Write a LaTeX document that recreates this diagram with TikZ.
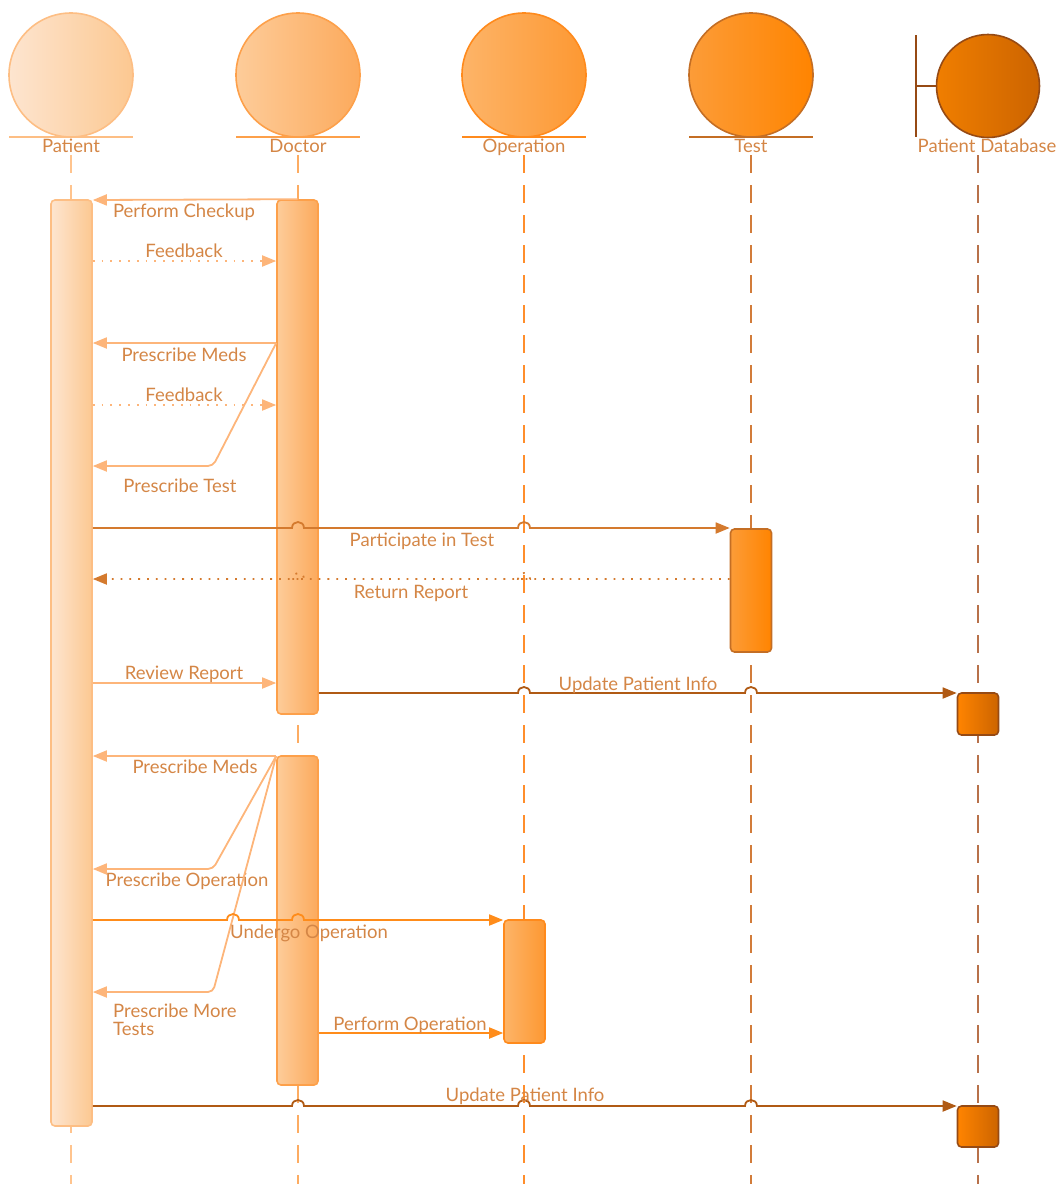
\documentclass[tikz,border=0pt]{standalone}
\usepackage{fontspec}
\setmainfont{Lato}
\usetikzlibrary{arrows.meta}

% palette
\definecolor{txt}{RGB}{212,134,70}
\definecolor{patL}{RGB}{253,229,208}
\definecolor{patR}{RGB}{252,200,145}
\definecolor{patD}{RGB}{253,190,132}
\definecolor{docL}{RGB}{253,204,154}
\definecolor{docR}{RGB}{252,170,92}
\definecolor{docD}{RGB}{253,160,74}
\definecolor{opL}{RGB}{253,180,104}
\definecolor{opR}{RGB}{253,152,50}
\definecolor{opD}{RGB}{255,138,28}
\definecolor{tstL}{RGB}{252,156,56}
\definecolor{tstR}{RGB}{255,132,0}
\definecolor{tstD}{RGB}{196,110,36}
\definecolor{dbL}{RGB}{240,126,0}
\definecolor{dbR}{RGB}{204,100,0}
\definecolor{dbD}{RGB}{150,74,20}
\definecolor{lifePat}{RGB}{255,196,142}
\definecolor{lifeDoc}{RGB}{253,172,98}
\definecolor{lifeOp}{RGB}{255,142,44}
\definecolor{lifeTst}{RGB}{210,124,58}
\definecolor{lifeDb}{RGB}{184,113,74}
\definecolor{msgLight}{RGB}{253,181,122}
\definecolor{msgTst}{RGB}{212,122,46}
\definecolor{msgDb}{RGB}{176,90,20}
\definecolor{msgOp}{RGB}{255,140,26}

% a small hop where a message passes over a lifeline
\newcommand{\hopat}[2]{-- ({#1-6},#2) .. controls ({#1-6},{#2-8}) and ({#1+6},{#2-8}) .. ({#1+6},#2)}

\begin{document}
\begin{tikzpicture}[x=1pt,y=-1pt,
  actor/.style={circle, minimum size=124pt, inner sep=0pt, line width=1.6pt},
  actbox/.style={rectangle, rounded corners=4pt, inner sep=0pt, minimum width=41pt, line width=1.6pt},
  lbl/.style={text=txt, font=\fontsize{18.5}{18}\selectfont, inner sep=0pt},
  tx/.style={lbl, text height=16pt, text depth=3pt},
  life/.style={line width=1.8pt, dash pattern=on 18pt off 12pt},
  msg/.style={line width=1.8pt, -{Triangle[length=14pt,width=11pt]}},
  reply/.style={msg, dash pattern=on 1.8pt off 7pt},
]
\useasboundingbox (0,0) rectangle (1060,1184);

% ---- lifelines
\draw[life, lifePat] (71,155) -- (71,1184);
\draw[life, lifeDoc] (298,155) -- (298,1184);
\draw[life, lifeOp]  (524,155) -- (524,1184);
\draw[life, lifeTst] (751,155) -- (751,1184);
\draw[life, lifeDb]  (978,155) -- (978,1184);

% ---- actors
\node[actor, left color=patL, right color=patR, draw=patD] (patC) at (71,75) {};
\draw[patD, line width=1.6pt] (9,137) -- (133,137);
\node[tx] (patT) at (71,146) {Patient};

\node[actor, left color=docL, right color=docR, draw=docD] (docC) at (298,75) {};
\draw[docD, line width=1.6pt] (236,137) -- (360,137);
\node[tx] (docT) at (298,146) {Doctor};

\node[actor, left color=opL, right color=opR, draw=opD] (opC) at (524,75) {};
\draw[opD, line width=1.6pt] (462,137) -- (586,137);
\node[tx] (opT) at (524,146) {Operation};

\node[actor, left color=tstL, right color=tstR, draw=tstD] (tstC) at (751,75) {};
\draw[tstD, line width=1.6pt] (689,137) -- (813,137);
\node[tx] (tstT) at (751,146) {Test};

% boundary actor
\node[actor, minimum size=103pt, left color=dbL, right color=dbR, draw=dbD] (dbC) at (988,86) {};
\draw[dbD, line width=1.6pt] (916,35) -- (916,137);
\draw[dbD, line width=1.6pt] (916,86) -- (dbC.west);
\node[tx] (dbT) at (987,146) {Patient Database};

% ---- activations
\node[actbox, minimum height=926pt, left color=patL, right color=patR, draw=patD] (pat) at (71.5,663) {};
\node[actbox, minimum height=514pt, left color=docL, right color=docR, draw=docD] (doc1) at (297.5,457) {};
\node[actbox, minimum height=329pt, left color=docL, right color=docR, draw=docD] (doc2) at (297.5,920.5) {};
\node[actbox, minimum height=123pt, left color=opL, right color=opR, draw=opD] (op) at (524.5,981.5) {};
\node[actbox, minimum height=123pt, left color=tstL, right color=tstR, draw=tstD] (tst) at (751,590.5) {};
\node[actbox, minimum height=42pt, left color=tstR, right color=dbR, draw=dbD] (db1) at (978,714) {};
\node[actbox, minimum height=41pt, left color=tstR, right color=dbR, draw=dbD] (db2) at (978,1126.5) {};

% ---- messages
\draw[msg, msgLight] (doc1.north) -- (pat.east |- 0,200);
\node[tx] (l1) at (184,211) {Perform Checkup};

\draw[reply, msgLight] (pat.east |- 0,261) -- (doc1.west |- 0,261);
\node[tx] (l2) at (184,251) {Feedback};

\draw[msg, msgLight] (doc1.west |- 0,343) -- (pat.east |- 0,343);
\node[tx] (l3) at (184,355) {Prescribe Meds};

\draw[reply, msgLight] (pat.east |- 0,405) -- (doc1.west |- 0,405);
\node[tx] (l4) at (184,395) {Feedback};

\draw[msg, msgLight, rounded corners=5pt] (doc1.west |- 0,343) -- (213,466) -- (pat.east |- 0,466);
\node[tx] (l5) at (180,486) {Prescribe Test};

\draw[msg, msgTst] (pat.east |- 0,528) \hopat{298}{528} \hopat{524}{528} -- (tst.west |- 0,528);
\node[tx] (l6) at (422,540) {Participate in Test};

\draw[reply, msgTst] (tst.west |- 0,579) \hopat{524}{579} \hopat{298}{579} -- (pat.east |- 0,579);
\node[tx] (l7) at (411,592) {Return Report};

\draw[msg, msgLight] (pat.east |- 0,683) -- (doc1.west |- 0,683);
\node[tx] (l8) at (184,673) {Review Report};

\draw[msg, msgDb] (doc1.east |- 0,693) \hopat{524}{693} \hopat{751}{693} -- (db1.west |- 0,693);
\node[tx] (l9) at (638,684) {Update Patient Info};

\draw[msg, msgLight] (doc2.west |- 0,756) -- (pat.east |- 0,756);
\node[tx] (l10) at (195,767) {Prescribe Meds};

\draw[msg, msgLight, rounded corners=5pt] (doc2.west |- 0,756) -- (213,869) -- (pat.east |- 0,869);
\node[tx] (l11) at (187,880) {Prescribe Operation};

\draw[msg, msgLight, rounded corners=5pt] (doc2.west |- 0,756) -- (213,992) -- (pat.east |- 0,992);
\node[lbl, align=left, anchor=north west] (l13) at (113,1004) {Prescribe More\\Tests};

\draw[msg, msgOp] (pat.east |- 0,920) \hopat{233}{920} \hopat{298}{920} -- (op.west |- 0,920);
\node[tx] (l12) at (309,932) {Undergo Operation};

\draw[msg, msgOp] (doc2.east |- 0,1033) -- (op.west |- 0,1033);
\node[tx] (l14) at (410,1024) {Perform Operation};

\draw[msg, msgDb] (pat.east |- 0,1106) \hopat{298}{1106} \hopat{524}{1106} \hopat{751}{1106} -- (db2.west |- 0,1106);
\node[tx] (l15) at (525,1095) {Update Patient Info};

\end{tikzpicture}
\end{document}
